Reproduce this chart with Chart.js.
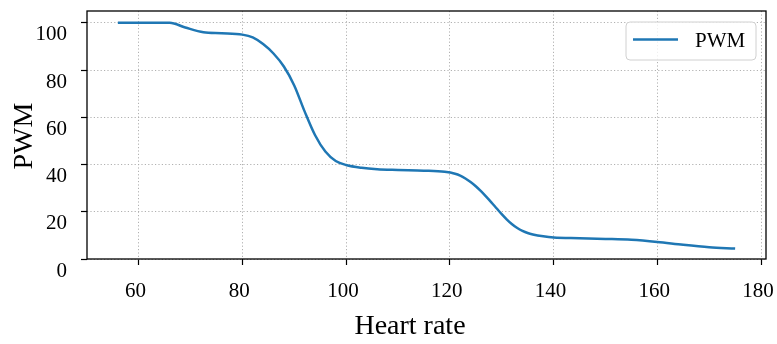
<!DOCTYPE html>
<html>
<head>
<meta charset="utf-8">
<script src="https://cdn.jsdelivr.net/npm/chart.js@4.4.0/dist/chart.umd.min.js"></script>
<style>
  html, body { margin: 0; padding: 0; background: #fff; }
</style>
</head>
<body>
<canvas id="pwmChart" width="777" height="344"></canvas>
<script>
// heart rate (x) vs PWM (y)
const heartRate = [56, 60, 66, 69, 72.5, 76, 80, 82, 84, 86, 88, 90, 92, 94, 96, 98, 100, 103, 106, 110, 115, 119, 121, 122, 123, 124, 125, 126, 127, 128, 129, 130, 131, 132, 133, 134, 135, 136, 138, 140, 145, 150, 155, 160, 165, 170, 175];
const pwm = [100, 100, 100, 98, 96, 95.6, 95, 93.8, 91, 87, 81.5, 73.5, 62.5, 52.5, 45.5, 41.5, 39.8, 38.6, 38, 37.7, 37.4, 36.9, 36.1, 35.3, 34.1, 32.6, 30.8, 28.7, 26.4, 24, 21.5, 19, 16.7, 14.7, 13.1, 11.9, 11, 10.4, 9.6, 9.1, 8.8, 8.5, 8.1, 7.2, 6, 5, 4.4];

const xTickValues = [60, 80, 100, 120, 140, 160, 180];
const yTickValues = [0, 20, 40, 60, 80, 100];

const serif = '"Liberation Serif", "Times New Roman", serif';
const lineBlue = '#1f77b4';

const points = heartRate.map((x, i) => ({ x: x, y: pwm[i] }));

// box around the plot, the legend and the two axis titles
const frame = {
  id: 'frame',
  afterDraw(chart) {
    const ctx = chart.ctx;
    const a = chart.chartArea;
    ctx.save();
    ctx.setLineDash([]);
    ctx.strokeStyle = '#000';
    ctx.lineWidth = 1.3;
    ctx.strokeRect(a.left, a.top, a.right - a.left, a.bottom - a.top);

    // legend
    ctx.beginPath();
    ctx.roundRect(626, 22, 130, 38, 4);
    ctx.fillStyle = 'rgba(255,255,255,0.8)';
    ctx.fill();
    ctx.strokeStyle = '#d0d0d0';
    ctx.lineWidth = 1;
    ctx.stroke();
    ctx.beginPath();
    ctx.moveTo(633, 39.5);
    ctx.lineTo(678, 39.5);
    ctx.strokeStyle = lineBlue;
    ctx.lineWidth = 2.5;
    ctx.stroke();
    ctx.fillStyle = '#000';
    ctx.font = '21px ' + serif;
    ctx.textAlign = 'left';
    ctx.textBaseline = 'middle';
    ctx.fillText(chart.data.datasets[0].label, 695, 41);

    // axis titles
    ctx.font = '28px ' + serif;
    ctx.textAlign = 'center';
    ctx.textBaseline = 'alphabetic';
    ctx.fillText('Heart rate', 410, 334);
    ctx.translate(32, (a.top + a.bottom) / 2 + 1);
    ctx.rotate(-Math.PI / 2);
    ctx.fillText('PWM', 0, 0);
    ctx.restore();
  }
};

const gridStyle = {
  color: '#a8a8a8',
  lineWidth: 0.9,
  drawTicks: true,
  tickLength: 6,
  tickColor: '#000',
  tickWidth: 1.2,
  tickBorderDash: []
};

new Chart(document.getElementById('pwmChart'), {
  type: 'line',
  data: {
    datasets: [{
      label: 'PWM',
      data: points,
      borderColor: lineBlue,
      backgroundColor: lineBlue,
      borderWidth: 2.5,
      pointRadius: 0,
      cubicInterpolationMode: 'monotone',
      fill: false
    }]
  },
  options: {
    responsive: false,
    animation: false,
    devicePixelRatio: 1,
    layout: { padding: { top: 11, right: 11, left: 0, bottom: 0 } },
    plugins: { legend: { display: false }, tooltip: { enabled: false } },
    scales: {
      x: {
        type: 'linear',
        min: 50.05,
        max: 180.95,
        afterBuildTicks: s => { s.ticks = xTickValues.map(v => ({ value: v })); },
        afterFit: s => {
          s.height = 85;
          s.paddingLeft = 0;
          s.paddingRight = 0;
        },
        grid: gridStyle,
        border: { display: false, dash: [1.2, 2.2] },
        ticks: {
          color: '#000',
          font: { family: serif, size: 21 },
          padding: 14,
          labelOffset: -3,
          maxRotation: 0
        }
      },
      y: {
        min: 0,
        max: 105,
        afterBuildTicks: s => { s.ticks = yTickValues.map(v => ({ value: v })); },
        afterFit: s => {
          s.width = 87;
          s.paddingTop = 0;
          s.paddingBottom = 0;
        },
        grid: gridStyle,
        border: { display: false, dash: [1.2, 2.2] },
        ticks: {
          color: '#000',
          font: { family: serif, size: 21 },
          padding: 14,
          labelOffset: 12
        }
      }
    }
  },
  plugins: [frame]
});
</script>
</body>
</html>
